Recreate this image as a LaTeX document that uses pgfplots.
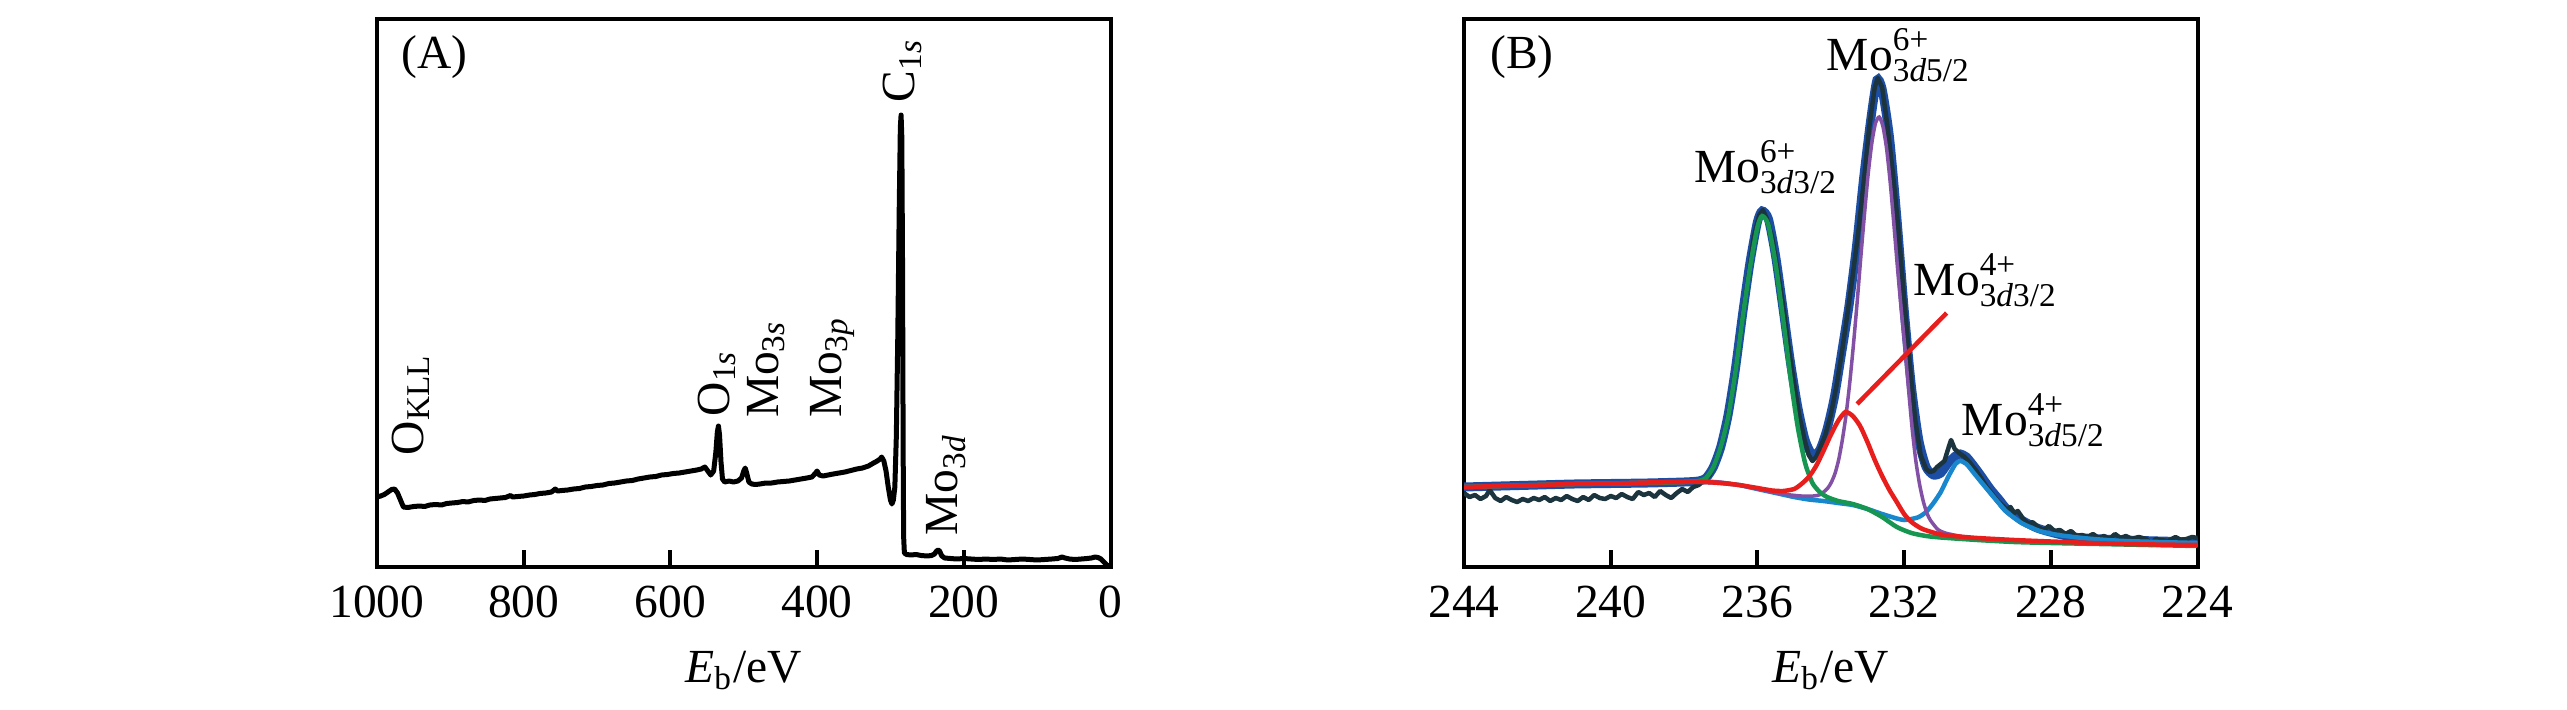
\documentclass[border=0pt]{standalone}
\usepackage{amsmath}
\usepackage{graphicx}
\usepackage{fontspec}
\setmainfont{Liberation Serif}
\usepackage{pgfplots}
\pgfplotsset{compat=1.18}
\definecolor{rawc}{RGB}{28,52,62}
\definecolor{envc}{RGB}{28,78,165}
\definecolor{grnc}{RGB}{22,150,80}
\definecolor{purc}{RGB}{130,80,165}
\definecolor{lbc}{RGB}{25,135,205}
\definecolor{redc}{RGB}{232,30,28}
\newcommand{\lbl}{\fontsize{9.5}{11}\selectfont}
\pgfplotsset{myax/.style={
  width=146.7pt, height=109.6pt, scale only axis,
  x dir=reverse, ymin=0, ymax=548, ytick=\empty,
  xtick pos=bottom, tick align=inside, major tick length=3.5pt,
  line width=0.8pt,
  every tick/.style={line width=0.8pt, black},
  tick label style={font=\lbl},
  xticklabel style={anchor=base, yshift=-10pt},
  /pgf/number format/assume math mode=true,
  /pgf/number format/1000 sep={},
  xlabel={\textit{E}\textsubscript{b}/eV},
  xlabel style={font=\lbl, at={(axis description cs:0.5,0)}, anchor=base, yshift=-23pt},
  anchor=south west,
}}
\begin{document}
\begin{tikzpicture}
\path[use as bounding box] (0,0) rectangle (513.4pt,141.8pt);
% ---------------- Panel A ----------------
\begin{axis}[myax, at={(75.4pt,28.4pt)}, xmin=0, xmax=1000, xtick={0,200,400,600,800,1000}]
\addplot[black, line width=1pt, line join=round] coordinates {
(1000,70)(995,71)(990,72.5)(985,75)(980,77.5)(976,78)(972,74)(968,67)(964,60)(958,59.5)(950,60.5)(942,61)(935,60.5)(928,62)(920,62.5)(912,62)(905,63.5)(898,64)(890,64.5)(883,65.5)(876,65)(868,66.5)(860,67)(853,66.5)(846,68)(839,68.5)(832,69)(825,69.5)(818,71.5)(815,70)(808,70.5)(800,71)(792,72)(785,72.5)(778,73.5)(770,74)(762,75)(757,78)(754,76)(748,76.5)(740,77)(732,78)(724,78.5)(716,80)(708,80.5)(700,81.5)(692,82)(684,83.5)(676,84)(668,85)(660,86)(652,86.5)(644,88)(636,89)(628,90)(620,90.5)(612,92)(604,92.5)(596,93.5)(588,94)(580,95)(572,96)(564,97)(558,98)(553,100)(549,96)(545,92)(541,96)(538,115)(536,135)(534.5,141)(533,132)(531,105)(529,88)(526,85)(520,86)(514,85)(508,86)(503,89)(500,96)(498,99)(496,94)(493,85)(489,83)(484,82.5)(478,83)(470,84)(462,84)(454,85)(446,85.5)(438,86)(430,87)(422,88)(414,89)(407,90)(402,94)(400,96)(397,92)(392,91)(385,92)(378,93)(370,94)(362,95)(354,96.5)(346,98)(338,99)(330,101)(323,104)(318,106)(314,108)(312,110)(309,106)(306,96)(303,80)(300,67)(298,63)(296,67)(294,80)(292,130)(290,230)(288,360)(286.5,440)(285.5,452)(284.5,430)(283.5,300)(282.7,120)(282,30)(281,14)(278,12.5)(272,12)(265,12.5)(258,11.5)(250,11)(244,11.5)(240,13)(237,16)(235,17)(233,16)(230,11)(226,9)(218,8.5)(210,8)(200,8.5)(190,8)(180,7.5)(170,8)(160,7.5)(150,8)(140,7)(130,7.5)(120,8)(110,7.5)(100,7)(90,7.5)(80,8)(72,8.5)(66,10)(62,9)(56,8)(48,7.5)(40,8)(32,8.5)(26,9)(21,10)(17,9.5)(13,8)(9,5)(5,2)(0,0)
};
\node[font=\lbl, inner sep=0] at (axis description cs:0.078,0.93) {(A)};
\node[anchor=south west, inner sep=0, font=\lbl] at (axis cs:982,110) {\rotatebox{90}{O\textsubscript{KLL}}};
\node[anchor=south west, inner sep=0, font=\lbl] at (axis cs:565,149) {\rotatebox{90}{O\textsubscript{1\textit{s}}}};
\node[anchor=south west, inner sep=0, font=\lbl] at (axis cs:498,147) {\rotatebox{90}{Mo\textsubscript{3\textit{s}}}};
\node[anchor=south west, inner sep=0, font=\lbl] at (axis cs:412,147) {\rotatebox{90}{Mo\textsubscript{3\textit{p}}}};
\node[anchor=south west, inner sep=0, font=\lbl] at (axis cs:312.4,463) {\rotatebox{90}{C\textsubscript{1\textit{s}}}};
\node[anchor=south west, inner sep=0, font=\lbl] at (axis cs:253.4,29.5) {\rotatebox{90}{Mo\textsubscript{3\textit{d}}}};
\end{axis}
% ---------------- Panel B ----------------
\begin{axis}[myax, at={(292.8pt,28.4pt)}, xmin=224, xmax=244, xtick={224,228,232,236,240,244}]
% envelope
\addplot[envc, line width=1.8pt, smooth, tension=0.4] coordinates {
(244,80)(243,81)(242,82)(241,83)(240,83.5)(239,84)(238,85)(237.6,86)(237.4,89)(237.2,100)(237.0,120)(236.8,152)(236.6,198)(236.4,254)(236.2,305)(236.0,345)(235.87,356)(235.7,348)(235.5,310)(235.3,258)(235.1,205)(234.9,160)(234.7,127)(234.5,112)(234.3,117)(234.1,138)(233.9,170)(233.7,215)(233.5,262)(233.3,320)(233.1,390)(232.9,450)(232.74,487)(232.6,478)(232.4,430)(232.2,350)(232.0,258)(231.8,180)(231.6,127)(231.4,100)(231.2,92)(231.0,94)(230.8,104)(230.6,111)(230.47,113)(230.3,110)(230.1,101)(229.9,91)(229.65,78)(229.4,67)(229.2,58)(228.8,47)(228.3,38)(227.4,30)(226,27)(224,25)
};
% raw data
\addplot[rawc, line width=0.9pt, line join=round] coordinates {
(244.0,74)(243.85,70)(243.7,72)(243.55,68)(243.4,71)(243.3,77)(243.15,69)(243.0,66)(242.85,70)(242.7,67)(242.55,65)(242.4,68)(242.25,66)(242.1,69)(241.95,67)(241.8,70)(241.65,66)(241.5,69)(241.35,67)(241.2,71)(241.05,68)(240.9,66)(240.75,70)(240.6,67)(240.45,72)(240.3,69)(240.15,68)(240.0,71)(239.85,69)(239.7,73)(239.55,70)(239.4,68)(239.25,75)(239.1,72)(238.95,74)(238.8,70)(238.65,76)(238.5,72)(238.35,69)(238.2,74)(238.05,78)(237.9,75)(237.75,80)(237.6,82)(237.45,87)(237.3,92)(237.15,104)(237.0,119)(236.85,142)(236.7,172)(236.55,208)(236.4,252)(236.25,290)(236.1,330)(235.95,352)(235.85,357)(235.75,349)(235.6,330)(235.45,297)(235.3,262)(235.15,220)(235.0,184)(234.85,150)(234.7,125)(234.6,112)(234.5,106)(234.4,110)(234.3,118)(234.15,132)(234.0,152)(233.85,180)(233.7,214)(233.55,252)(233.4,292)(233.25,335)(233.1,385)(232.95,440)(232.8,480)(232.72,489)(232.6,480)(232.45,440)(232.3,392)(232.15,336)(232.0,268)(231.85,205)(231.7,148)(231.55,112)(231.4,98)(231.3,95)(231.2,96)(231.1,100)(231.0,103)(230.9,106)(230.8,118)(230.72,127)(230.62,118)(230.5,114)(230.35,110)(230.2,104)(230.05,97)(229.9,89)(229.75,80)(229.6,73)(229.45,66)(229.3,61)(229.2,57)(229.1,60)(229.0,54)(228.9,56)(228.75,48)(228.6,43)(228.5,45)(228.35,40)(228.2,37)(228.05,41)(227.9,36)(227.75,37)(227.6,33)(227.45,36)(227.3,31)(227.15,32)(227.0,30)(226.85,33)(226.7,29)(226.55,31)(226.4,28)(226.25,33)(226.1,29)(225.95,31)(225.8,28)(225.6,30)(225.4,28)(225.25,22)(225.15,28)(225.0,27)(224.8,26)(224.6,30)(224.45,27)(224.3,28)(224.15,30)(224.0,29)
};
% Mo4+ 3d5/2 (light blue)
\addplot[lbc, line width=0.9pt, smooth, tension=0.4] coordinates {
(244,80)(243,81)(242,82)(241,83)(240,83.5)(239,84.5)(238,85)(237.5,85)(237.0,84)(236.5,82)(236.0,78)(235.5,74)(235.0,70)(234.6,67.5)(234.2,66)(233.8,64)(233.4,62)(233.0,58)(232.6,53)(232.2,48.5)(232.0,47)(231.8,48)(231.6,50)(231.4,55)(231.2,64)(231.0,75)(230.8,90)(230.6,103)(230.47,106)(230.3,103)(230.1,94)(229.9,85)(229.65,74)(229.4,63)(229.2,55)(228.8,44)(228.3,36)(227.8,32)(227.0,28.5)(226.0,26)(224.0,24)
};
% Mo6+ 3d5/2 (purple)
\addplot[purc, line width=0.7pt, smooth, tension=0.4] coordinates {
(244,80)(243,81)(242,82)(241,83)(240,83.5)(239,84.5)(238,85.5)(237.6,86)(237.2,85.5)(236.8,84)(236.4,81)(236.0,78)(235.6,75)(235.2,72.5)(234.8,71)(234.48,71)(234.28,72.5)(234.08,79)(233.98,85)(233.88,94)(233.78,108)(233.68,128)(233.58,153)(233.48,185)(233.38,223)(233.28,265)(233.18,310)(233.08,353)(232.98,393)(232.88,424)(232.78,444)(232.68,450)(232.58,441)(232.48,419)(232.38,385)(232.28,343)(232.18,299)(232.08,258)(231.98,220)(231.88,178)(231.78,138)(231.68,106)(231.58,83)(231.48,66)(231.38,54)(231.28,46.6)(231.08,37.5)(230.88,34)(230.5,31)(230.0,28)(229.0,26)(228.0,24)(226.0,23)(224.0,22)
};
% Mo6+ 3d3/2 (green)
\addplot[grnc, line width=0.9pt, smooth, tension=0.4] coordinates {
(244,80)(243,81)(242,82)(241,83)(240,83.5)(239,84)(238,85)(237.6,86)(237.4,89)(237.2,100)(237.0,120)(236.8,150)(236.6,195)(236.4,250)(236.2,300)(236.0,340)(235.87,351)(235.7,342)(235.5,302)(235.3,248)(235.1,190)(234.9,140)(234.7,104)(234.5,84)(234.3,75)(234.1,70)(233.8,66)(233.4,63)(233.0,58)(232.6,50)(232.2,40)(231.8,34)(231.4,31)(231.0,29.5)(230.0,27)(229.0,25)(228.0,24)(226.0,22.5)(224.0,21)
};
% Mo4+ 3d3/2 (red)
\addplot[redc, line width=0.9pt, smooth, tension=0.4] coordinates {
(244,80)(243,81)(242,82)(241,83)(240,83.5)(239,84.5)(238,85)(237.5,85)(237.0,84)(236.5,82)(236.0,79)(235.6,76.5)(235.3,76)(235.0,78)(234.8,83)(234.6,90)(234.4,101)(234.2,116)(234.0,132)(233.8,146)(233.6,155)(233.4,151)(233.2,141)(233.0,125)(232.8,107)(232.6,91)(232.4,77)(232.2,65)(232.0,53)(231.8,45)(231.5,38)(231.0,32.5)(230.5,30.5)(230.0,29)(229.0,27)(228.0,25.5)(226.0,23)(224.0,22)
};
\draw[redc, line width=0.9pt] (axis cs:233.28,163) -- (axis cs:230.84,254);
\node[font=\lbl, inner sep=0] at (axis description cs:0.079,0.93) {(B)};
\node[font=\lbl, anchor=base west, inner sep=0] at (axis cs:234.16,497) {Mo$^{\text{6+}}_{\text{3\textit{d}5/2}}$};
\node[font=\lbl, anchor=base west, inner sep=0] at (axis cs:237.78,385) {Mo$^{\text{6+}}_{\text{3\textit{d}3/2}}$};
\node[font=\lbl, anchor=base west, inner sep=0] at (axis cs:231.79,272) {Mo$^{\text{4+}}_{\text{3\textit{d}3/2}}$};
\node[font=\lbl, anchor=base west, inner sep=0] at (axis cs:230.48,132) {Mo$^{\text{4+}}_{\text{3\textit{d}5/2}}$};
\end{axis}
\end{tikzpicture}
\end{document}
